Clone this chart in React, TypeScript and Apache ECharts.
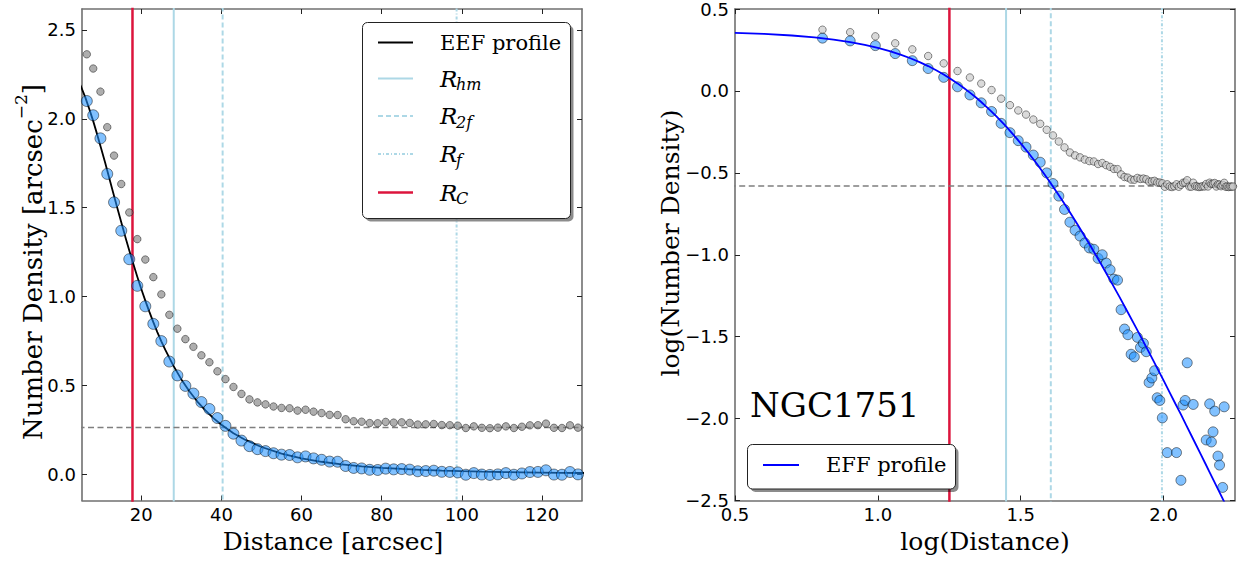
import React, { useEffect, useRef } from "react";
import * as echarts from "echarts";

// ---------------- data ----------------
const distance = [
  6.4, 8.0, 9.8, 11.5, 13.2, 15, 17, 19, 21, 23, 25, 27, 29, 31, 33, 35, 37, 39, 41, 43,
  45, 47, 49, 51, 53, 55, 57, 59, 61, 63, 65, 67, 69, 71, 73, 75, 77, 79, 81, 83,
  85, 87, 89, 91, 93, 95, 97, 99, 101, 103, 105, 107, 109, 111, 113, 115, 117, 119, 121, 123,
  125, 127, 129, 131, 133, 135, 137, 139, 141, 143, 145, 147, 149, 151, 153, 155, 157, 159, 161, 163,
  165, 167, 169, 171, 173, 175,
];
// background-subtracted number density (blue points)
const density = [
  2.10, 2.02, 1.89, 1.69, 1.53, 1.37, 1.21, 1.06, 0.945, 0.846,
  0.749, 0.634, 0.556, 0.497, 0.454, 0.406, 0.367, 0.316, 0.272, 0.228,
  0.189, 0.158, 0.141, 0.130, 0.118, 0.110, 0.108, 0.095, 0.100, 0.089,
  0.081, 0.071, 0.070, 0.0462, 0.0352, 0.0325, 0.0247, 0.0238, 0.0313, 0.0272,
  0.0288, 0.0256, 0.0166, 0.0177, 0.0196, 0.0134, 0.0129, 0.0101, -0.003, 0.0062,
  -0.002, -0.004, -0.001, 0.0062, -0.003, 0.0042, 0.0121, 0.0129, 0.0219, -0.002,
  -0.003, 0.0122, -0.001, -0.002, -0.004, -0.003, -0.001, -0.002, 0.0074, -0.002,
  0.0123, 0.0072, 0.0083, 0.0111, -0.002, 0.0059, 0.0052, -0.001, 0.0038, 0.0118,
  -0.003, -0.002, -0.004, -0.002, -0.003, -0.002,
];
// raw number density (grey points)
const rawDensity = [
  2.363, 2.283, 2.153, 1.953, 1.793, 1.633, 1.473, 1.323, 1.208, 1.109,
  1.012, 0.897, 0.819, 0.760, 0.717, 0.669, 0.630, 0.579, 0.535, 0.491,
  0.452, 0.421, 0.404, 0.393, 0.381, 0.373, 0.371, 0.358, 0.363, 0.352,
  0.344, 0.334, 0.333, 0.3092, 0.2982, 0.2955, 0.2877, 0.2868, 0.2943, 0.2902,
  0.2918, 0.2886, 0.2796, 0.2807, 0.2826, 0.2764, 0.2759, 0.2731, 0.260, 0.2692,
  0.261, 0.259, 0.262, 0.2692, 0.260, 0.2672, 0.2751, 0.2759, 0.2849, 0.261,
  0.260, 0.2752, 0.262, 0.261, 0.259, 0.260, 0.262, 0.261, 0.2704, 0.261,
  0.2753, 0.2702, 0.2713, 0.2741, 0.261, 0.2689, 0.2682, 0.262, 0.2668, 0.2748,
  0.260, 0.261, 0.259, 0.261, 0.260, 0.261,
];
const backgroundDensity = 0.263;

// EFF profile curve
const profileRadius = [
  3.16, 4, 5, 6, 7, 8, 9, 10, 11, 12, 13, 14, 15, 16, 17, 18, 19, 20, 21, 22,
  23, 24, 25, 26, 28, 30, 32, 34, 36, 38, 40, 43, 46, 50, 55, 60, 65, 70, 75, 80,
  85, 90, 95, 100, 105, 110, 115, 120, 125, 130, 135, 140, 145, 150, 155, 160, 165, 170,
];
const profileDensity = [
  2.260, 2.227, 2.179, 2.122, 2.057, 1.987, 1.911, 1.832, 1.751, 1.667, 1.583, 1.500, 1.418, 1.337, 1.259, 1.184, 1.1115, 1.042, 0.9766, 0.915,
  0.8556, 0.800, 0.748, 0.6992, 0.611, 0.5336, 0.467, 0.4088, 0.359, 0.3153, 0.278, 0.2308, 0.1928, 0.153, 0.1162, 0.0896, 0.0700, 0.0555, 0.0444, 0.0360,
  0.0295, 0.0244, 0.0203, 0.0171, 0.01446, 0.01232, 0.0106, 0.00912, 0.00791, 0.0069, 0.00604, 0.00532, 0.0047, 0.00417, 0.00371, 0.00332, 0.00297, 0.00267,
];

// characteristic radii [arcsec]
const R_C = 17.8;
const R_HM = 28.1;
const R_2F = 40.3;
const R_F = 98.7;

const leftXTicks = [20, 40, 60, 80, 100, 120];
const leftYTicks = [0, 0.5, 1, 1.5, 2, 2.5];
const rightXTicks = [0.5, 1, 1.5, 2];
const rightYTicks = [-2.5, -2, -1.5, -1, -0.5, 0, 0.5];

const clusterName = "NGC1751";

// ---------------- styles ----------------
const SERIF = '"DejaVu Serif", serif';
const SANS = '"DejaVu Sans", sans-serif';
const LIGHTBLUE = "#add8e6";
const CRIMSON = "#dc143c";

const fmt1 = (v: number) => v.toFixed(1).replace("-", "\u2212");
const fmt0 = (v: number) => String(Math.round(v));

function makeAxis(gridIndex: number, position: string, min: number, max: number, ticks: number[], labels: boolean, isX: boolean, formatter: (v: number) => string) {
  return {
    type: "value",
    gridIndex,
    position,
    min,
    max,
    axisLine: { show: true, onZero: false, lineStyle: { color: "#707070", width: 1.6 } },
    axisTick: { show: true, inside: true, length: 5, customValues: ticks, lineStyle: { color: "#222", width: 1 } },
    axisLabel: {
      show: labels,
      customValues: ticks,
      formatter,
      fontFamily: SANS,
      fontSize: 18,
      lineHeight: 14,
      color: "#000",
      margin: isX ? 7 : 6,
      showMinLabel: true,
      showMaxLabel: true,
    },
    splitLine: { show: false },
  };
}

function vline(x: number, xAxisIndex: number, yAxisIndex: number, color: string, type: any, width: number) {
  return {
    type: "line",
    xAxisIndex,
    yAxisIndex,
    data: [[x, -100], [x, 100]],
    symbol: "none",
    silent: true,
    z: 1,
    lineStyle: { color, type, width },
  };
}

function hline(y: number, xAxisIndex: number, yAxisIndex: number) {
  return {
    type: "line",
    xAxisIndex,
    yAxisIndex,
    data: [[-100, y], [1000, y]],
    symbol: "none",
    silent: true,
    z: 1,
    lineStyle: { color: "#7f7f7f", type: [6, 3.5], width: 1.5 },
  };
}

const dotted = [3, 2, 1, 2];
const dashed = [5, 3];

function buildOption() {
  const leftBlue = distance.map((d, i) => [d, density[i]]);
  const leftGrey = distance.map((d, i) => [d, rawDensity[i]]);
  const leftCurve = profileRadius.map((r, i) => [r, profileDensity[i]]);
  const rightBlue = distance
    .map((d, i) => [d, density[i]])
    .filter((p) => p[1] > 0)
    .map((p) => [Math.log10(p[0]), Math.log10(p[1])]);
  const rightGrey = distance.map((d, i) => [Math.log10(d), Math.log10(rawDensity[i])]);
  const rightCurve = profileRadius.map((r, i) => [Math.log10(r), Math.log10(profileDensity[i])]);

  const legendRows = [42.5, 78.5, 116, 154, 192.5];

  const graphic: any[] = [
    // axis titles
    {
      type: "text", x: 333, y: 541,
      style: { text: "Distance [arcsec]", font: `25px ${SERIF}`, fill: "#000", align: "center", verticalAlign: "middle" },
    },
    {
      type: "text", x: 29, y: 262, rotation: Math.PI / 2,
      style: {
        text: "{n|Number Density [arcsec}{s|\u22122}{n|]}",
        fill: "#000", align: "center", verticalAlign: "middle",
        rich: {
          n: { fontFamily: '"DejaVu Serif"', fontSize: 26, lineHeight: 34, verticalAlign: "bottom", fill: "#000" },
          s: { fontFamily: '"DejaVu Serif"', fontSize: 17, lineHeight: 34, verticalAlign: "top", fill: "#000" },
        },
      },
    },
    {
      type: "text", x: 985, y: 541,
      style: { text: "log(Distance)", font: `25px ${SERIF}`, fill: "#000", align: "center", verticalAlign: "middle" },
    },
    {
      type: "text", x: 670, y: 243, rotation: Math.PI / 2,
      style: { text: "log(Number Density)", font: `25px ${SERIF}`, fill: "#000", align: "center", verticalAlign: "middle" },
    },
    // NGC label
    {
      type: "text", x: 750, y: 405,
      style: { text: clusterName, font: `34px ${SERIF}`, fill: "#000", align: "left", verticalAlign: "middle" },
    },
    // left legend
    { type: "rect", z: 100, shape: { x: 365.5, y: 25.5, width: 208, height: 196, r: 5 }, style: { fill: "rgba(0,0,0,0.45)" } },
    { type: "rect", z: 101, shape: { x: 362.5, y: 22.5, width: 208, height: 196, r: 5 }, style: { fill: "#fff", stroke: "#222", lineWidth: 1 } },
    { type: "line", z: 102, shape: { x1: 378, y1: legendRows[0], x2: 413, y2: legendRows[0] }, style: { stroke: "#000", lineWidth: 2 } },
    { type: "line", z: 102, shape: { x1: 378, y1: legendRows[1], x2: 413, y2: legendRows[1] }, style: { stroke: LIGHTBLUE, lineWidth: 2 } },
    { type: "line", z: 102, shape: { x1: 378, y1: legendRows[2], x2: 413, y2: legendRows[2] }, style: { stroke: LIGHTBLUE, lineWidth: 2, lineDash: dashed } },
    { type: "line", z: 102, shape: { x1: 378, y1: legendRows[3], x2: 413, y2: legendRows[3] }, style: { stroke: LIGHTBLUE, lineWidth: 2, lineDash: dotted } },
    { type: "line", z: 102, shape: { x1: 378, y1: legendRows[4], x2: 413, y2: legendRows[4] }, style: { stroke: CRIMSON, lineWidth: 2.5 } },
    { type: "text", z: 102, x: 440, y: legendRows[0], style: { text: "EEF profile", font: `21px ${SERIF}`, fill: "#000", verticalAlign: "middle" } },
    { type: "text", z: 102, x: 440, y: legendRows[1], style: { text: "R", font: `italic 23px ${SERIF}`, fill: "#000", verticalAlign: "middle" } },
    { type: "text", z: 102, x: 456, y: legendRows[1] + 6, style: { text: "hm", font: `italic 16px ${SERIF}`, fill: "#000", verticalAlign: "middle" } },
    { type: "text", z: 102, x: 440, y: legendRows[2], style: { text: "R", font: `italic 23px ${SERIF}`, fill: "#000", verticalAlign: "middle" } },
    { type: "text", z: 102, x: 456, y: legendRows[2] + 6, style: { text: "2f", font: `italic 16px ${SERIF}`, fill: "#000", verticalAlign: "middle" } },
    { type: "text", z: 102, x: 440, y: legendRows[3], style: { text: "R", font: `italic 23px ${SERIF}`, fill: "#000", verticalAlign: "middle" } },
    { type: "text", z: 102, x: 456, y: legendRows[3] + 6, style: { text: "f", font: `italic 16px ${SERIF}`, fill: "#000", verticalAlign: "middle" } },
    { type: "text", z: 102, x: 440, y: legendRows[4], style: { text: "R", font: `italic 23px ${SERIF}`, fill: "#000", verticalAlign: "middle" } },
    { type: "text", z: 102, x: 456, y: legendRows[4] + 6, style: { text: "C", font: `italic 16px ${SERIF}`, fill: "#000", verticalAlign: "middle" } },
    // right legend
    { type: "rect", z: 100, shape: { x: 750.5, y: 447.5, width: 208, height: 44.5, r: 5 }, style: { fill: "rgba(0,0,0,0.45)" } },
    { type: "rect", z: 101, shape: { x: 747.5, y: 444.5, width: 208, height: 44.5, r: 5 }, style: { fill: "#fff", stroke: "#222", lineWidth: 1 } },
    { type: "line", z: 102, shape: { x1: 763, y1: 465, x2: 799, y2: 465 }, style: { stroke: "#0000ff", lineWidth: 2 } },
    { type: "text", z: 102, x: 826, y: 465, style: { text: "EFF profile", font: `21px ${SERIF}`, fill: "#000", verticalAlign: "middle" } },
  ];

  const blueStyle = { color: "rgba(30,144,255,0.7)", borderColor: "rgba(0,0,0,0.75)", borderWidth: 0.8 };

  return {
    animation: false,
    backgroundColor: "#fff",
    grid: [
      { left: 82, top: 9, width: 500, height: 491.5 },
      { left: 735, top: 9, width: 500, height: 491.5 },
    ],
    xAxis: [
      makeAxis(0, "bottom", 5.2, 130, leftXTicks, true, true, fmt0),
      makeAxis(0, "top", 5.2, 130, leftXTicks, false, true, fmt0),
      makeAxis(1, "bottom", 0.5, 2.25, rightXTicks, true, true, fmt1),
      makeAxis(1, "top", 0.5, 2.25, rightXTicks, false, true, fmt1),
    ],
    yAxis: [
      makeAxis(0, "left", -0.148, 2.618, leftYTicks, true, false, fmt1),
      makeAxis(0, "right", -0.148, 2.618, leftYTicks, false, false, fmt1),
      makeAxis(1, "left", -2.5, 0.5, rightYTicks, true, false, fmt1),
      makeAxis(1, "right", -2.5, 0.5, rightYTicks, false, false, fmt1),
    ],
    graphic,
    series: [
      // left panel
      vline(R_HM, 0, 0, LIGHTBLUE, "solid", 2),
      vline(R_2F, 0, 0, LIGHTBLUE, dashed, 2),
      vline(R_F, 0, 0, LIGHTBLUE, dotted, 2),
      vline(R_C, 0, 0, CRIMSON, "solid", 2.5),
      hline(backgroundDensity, 0, 0),
      {
        type: "line", xAxisIndex: 0, yAxisIndex: 0, data: leftCurve, symbol: "none", smooth: false,
        z: 2, lineStyle: { color: "#000", width: 1.8 },
      },
      {
        type: "scatter", xAxisIndex: 0, yAxisIndex: 0, data: leftGrey, symbolSize: 7.5, z: 3,
        itemStyle: { color: "rgba(128,128,128,0.8)", borderColor: "rgba(0,0,0,0.7)", borderWidth: 0.8 },
      },
      {
        type: "scatter", xAxisIndex: 0, yAxisIndex: 0, data: leftBlue, symbolSize: 11, z: 4,
        itemStyle: blueStyle,
      },
      // right panel
      vline(Math.log10(R_HM), 2, 2, LIGHTBLUE, "solid", 2),
      vline(Math.log10(R_2F), 2, 2, LIGHTBLUE, dashed, 2),
      vline(Math.log10(R_F), 2, 2, LIGHTBLUE, dotted, 2),
      vline(Math.log10(R_C), 2, 2, CRIMSON, "solid", 2.5),
      hline(Math.log10(backgroundDensity), 2, 2),
      {
        type: "scatter", xAxisIndex: 2, yAxisIndex: 2, data: rightGrey, symbolSize: 7.5, z: 3,
        itemStyle: { color: "rgba(200,200,200,0.85)", borderColor: "rgba(0,0,0,0.7)", borderWidth: 0.8 },
      },
      {
        type: "scatter", xAxisIndex: 2, yAxisIndex: 2, data: rightBlue, symbolSize: 10, z: 4,
        itemStyle: blueStyle,
      },
      {
        type: "line", xAxisIndex: 2, yAxisIndex: 2, data: rightCurve, symbol: "none", smooth: false,
        z: 5, lineStyle: { color: "#0000ff", width: 1.8 },
      },
    ],
  };
}

export default function App() {
  const ref = useRef<HTMLDivElement>(null);
  useEffect(() => {
    const chart = echarts.init(ref.current as HTMLDivElement, null, { renderer: "svg" });
    chart.setOption(buildOption() as any);
    return () => chart.dispose();
  }, []);
  return (
    <div
      ref={ref}
      style={{ position: "fixed", left: 0, top: 0, width: 1240, height: 565, background: "#fff" }}
    />
  );
}
